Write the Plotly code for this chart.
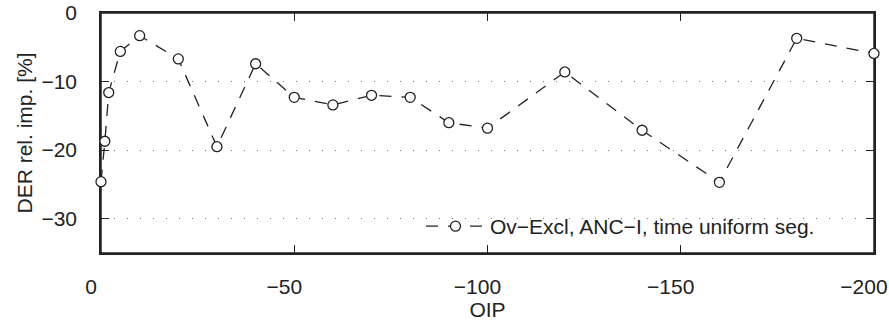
import plotly.graph_objects as go

oip = [0, -1, -2, -5, -10, -20, -30, -40, -50, -60, -70, -80, -90, -100, -120, -140, -160, -180, -200]
der_rel_imp = [-24.6, -18.7, -11.6, -5.6, -3.3, -6.7, -19.5, -7.4, -12.3, -13.4, -12.0, -12.3,
               -16.0, -16.8, -8.6, -17.1, -24.7, -3.7, -5.9]
series_name = "Ov\u2212Excl, ANC\u2212I, time uniform seg."
x_ticks = [0, -50, -100, -150, -200]
y_ticks = [0, -10, -20, -30]
x_range = [0, -200]
y_range = [-35, 0]

FONT = "Liberation Sans, Arial, Helvetica, sans-serif"
INK = "#222222"
FS = 21

W, H = 889, 321
L, R, T, B = 101, 15, 13, 68
PW, PH = W - L - R, H - T - B
TL = 8

fig = go.Figure()
fig.add_trace(go.Scatter(
    x=oip, y=der_rel_imp, name=series_name, mode="lines+markers",
    line=dict(color=INK, width=1.3, dash="12px,10px"),
    marker=dict(symbol="circle", size=10, color="white", line=dict(color=INK, width=1.3)),
    cliponaxis=False, showlegend=True,
))

fig.update_layout(
    width=W, height=H,
    margin=dict(l=L, r=R, t=T, b=B, autoexpand=False),
    paper_bgcolor="white", plot_bgcolor="white",
    font=dict(family=FONT, size=FS, color=INK),
    legend=dict(
        x=(421 - L) / PW, y=1 - (226.5 - T) / PH,
        xanchor="left", yanchor="middle",
        bgcolor="rgba(0,0,0,0)", borderwidth=0,
        font=dict(family=FONT, size=FS, color=INK),
        itemwidth=59,
    ),
    showlegend=True,
)

fig.update_layout(
    xaxis=dict(
        range=x_range, tickvals=x_ticks, showgrid=False,
        ticks="inside", ticklen=TL, tickwidth=1.2, tickcolor=INK,
        showline=True, linecolor=INK, linewidth=1.5, mirror="ticks",
        zeroline=False, layer="below traces",
        tickfont=dict(family=FONT, size=FS, color=INK),
        ticklabelstandoff=14, ticklabelshift=10, ticklabeloverflow="allow",
        title=dict(text="OIP", font=dict(family=FONT, size=FS, color=INK), standoff=12),
    ),
    yaxis=dict(
        range=y_range, tickvals=y_ticks,
        showgrid=True, gridcolor="#777777", gridwidth=1.2, griddash="1px,12px",
        ticks="inside", ticklen=TL, tickwidth=1.2, tickcolor=INK,
        showline=True, linecolor=INK, linewidth=1.5, mirror="ticks",
        zeroline=False, layer="below traces",
        tickfont=dict(family=FONT, size=FS, color=INK),
        ticklabelstandoff=18, ticklabeloverflow="allow",
        title=dict(text="DER rel. imp. [%]", font=dict(family=FONT, size=FS, color=INK), standoff=3),
    ),
)

# frame drawn as a paper-referenced rectangle as well
fig.add_shape(type="rect", xref="x domain", yref="y domain", x0=0, x1=1, y0=0, y1=1,
              line=dict(color=INK, width=1.5), fillcolor="rgba(0,0,0,0)", layer="below")

fig.write_html("out.html")
